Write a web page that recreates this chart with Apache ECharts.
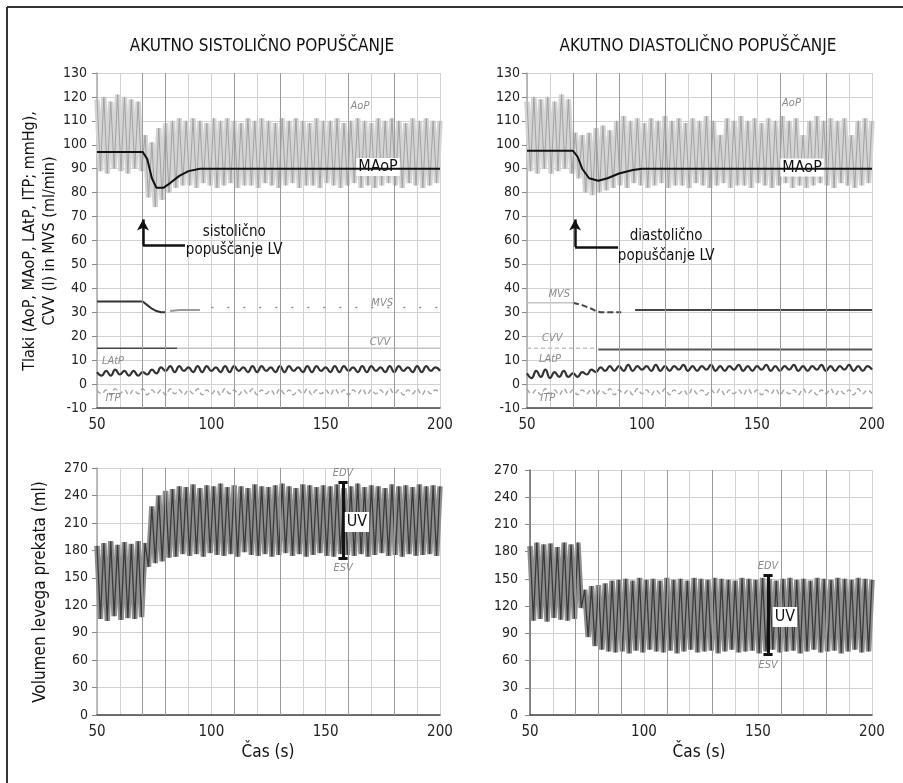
<!DOCTYPE html>
<html>
<head>
<meta charset="utf-8">
<script src="https://cdn.jsdelivr.net/npm/echarts@6/dist/echarts.min.js"></script>
<style>
  html, body { margin: 0; background: #fff; }
  #chart { width: 903px; height: 783px; }
</style>
</head>
<body>
<div id="chart"></div>
<script>
// casovna os (s)
const t0 = 50;
const beatStep = 1.5;   // vzorci za AoP in volumen
const waveStep = 2;     // vzorci za LAtP in ITP

// AoP - akutno sistolicno (vrh / dno izmenicno)
const aopLeft = [
  119, 89, 120, 88, 118, 90, 121, 89, 120, 88, 119, 90, 118, 89,
  104, 78, 101, 74, 107, 77, 109, 80, 110, 82, 111, 83,
  110, 83, 111, 82, 110, 84, 109, 83, 111, 82,
  110, 83, 111, 84, 110, 82, 109, 83, 111, 83,
  110, 82, 111, 84, 110, 83, 109, 82, 111, 83,
  110, 84, 111, 82, 110, 83, 109, 83, 111, 82,
  110, 84, 110, 83, 111, 82, 109, 83, 110, 84,
  111, 82, 110, 83, 109, 82, 111, 83, 110, 84,
  111, 83, 110, 82, 109, 84, 111, 83, 110, 82,
  111, 83, 110, 84, 110
];
// AoP - akutno diastolicno
const aopRight = [
  118, 89, 120, 88, 119, 90, 120, 88, 118, 89, 121, 90, 119, 88,
  105, 86, 104, 80, 105, 79, 107, 80, 108, 81, 106, 82,
  110, 83, 112, 82, 110, 84, 111, 83, 109, 82,
  111, 83, 110, 84, 112, 82, 110, 83, 111, 83,
  109, 82, 111, 84, 110, 83, 112, 82, 110, 83,
  104, 84, 111, 82, 110, 83, 112, 83, 110, 82,
  111, 84, 109, 83, 111, 82, 110, 83, 112, 84,
  110, 82, 111, 83, 104, 82, 110, 83, 112, 84,
  110, 83, 111, 82, 110, 84, 111, 83, 104, 82,
  110, 83, 111, 84, 110
];
// volumen levega prekata (ml)
const lvLeft = [
  185, 105, 188, 103, 190, 108, 186, 104, 189, 106, 187, 105, 190, 107,
  188, 162, 228, 166, 240, 168, 245, 172, 247, 173, 250, 176,
  249, 174, 252, 176, 248, 173, 251, 177, 250, 175,
  253, 174, 249, 176, 251, 173, 250, 178, 248, 175,
  252, 174, 250, 176, 249, 173, 251, 175, 253, 177,
  250, 174, 248, 176, 252, 173, 251, 175, 249, 177,
  251, 174, 250, 173, 252, 176, 248, 175, 250, 174,
  253, 176, 249, 173, 251, 175, 250, 177, 248, 174,
  252, 175, 250, 173, 251, 176, 249, 174, 252, 175,
  250, 176, 251, 174, 250
];
const lvRight = [
  186, 104, 190, 106, 188, 103, 189, 107, 185, 105, 190, 104, 188, 106,
  190, 118, 138, 86, 142, 76, 143, 72, 145, 70, 148, 69,
  149, 70, 150, 68, 148, 71, 151, 69, 149, 72,
  150, 70, 148, 69, 151, 71, 149, 68, 150, 70,
  148, 72, 151, 69, 150, 70, 149, 71, 151, 68,
  150, 70, 149, 72, 148, 69, 151, 70, 150, 71,
  149, 68, 151, 70, 150, 72, 148, 69, 150, 70,
  151, 71, 149, 68, 150, 70, 148, 72, 151, 69,
  150, 70, 149, 71, 151, 68, 150, 70, 149, 72,
  151, 69, 150, 70, 149
];

// LAtP in ITP (mmHg), korak 2 s
const latpLeft = [
  5, 3.5, 5.5, 3.5, 6, 4, 5.5, 3.5, 5.5, 3.5, 5, 4,
  6, 4.5, 7, 5.5, 7.5, 5, 7.5, 5.5,
  7, 5, 7.5, 5, 7.5, 5.5, 7, 5,
  7.5, 5, 7.5, 5.5, 7, 5, 7.5, 5,
  7.5, 5.5, 7, 5, 7.5, 5, 7.5, 5.5,
  7, 5, 7.5, 5, 7.5, 5.5, 7, 5,
  7.5, 5, 7.5, 5.5, 7, 5, 7.5, 5,
  7.5, 5.5, 7, 5, 7.5, 5, 7.5, 5.5,
  7, 5, 7.5, 5, 7.5, 5.5, 7, 5.5
];
const itpLeft = [
  -2.5, -4, -2.5, -4.5, -2, -4, -2.5, -4.5,
  -2.5, -4, -2, -4.5, -2.5, -4, -2.5, -4.5,
  -2, -4, -2.5, -4.5, -2.5, -4, -2, -4.5,
  -2.5, -4, -2.5, -4.5, -2, -4, -2.5, -4.5,
  -2.5, -4, -2, -4.5, -2.5, -4, -2.5, -4.5,
  -2, -4, -2.5, -4.5, -2.5, -4, -2, -4.5,
  -2.5, -4, -2.5, -4.5, -2, -4, -2.5, -4.5,
  -2.5, -4, -2, -4.5, -2.5, -4, -2.5, -4.5,
  -2, -4, -2.5, -4.5, -2.5, -4, -2, -4.5,
  -2.5, -4, -2.5, -4
];
const latpRight = [
  4.5, 2.5, 5.5, 3, 6, 2.5, 5, 3, 5.5, 3, 4.5, 3,
  5, 4, 6, 5, 7, 5.5, 7.5, 5.5,
  7.5, 5.5, 8, 5.5, 7.5, 6, 7.5, 5.5,
  8, 5.5, 7.5, 5.5, 7.5, 6, 8, 5.5,
  7.5, 5.5, 7.5, 6, 8, 5.5, 7.5, 5.5,
  7.5, 6, 8, 5.5, 7.5, 5.5, 7.5, 6,
  8, 5.5, 7.5, 5.5, 7.5, 6, 8, 5.5,
  7.5, 5.5, 7.5, 6, 8, 5.5, 7.5, 5.5,
  7.5, 6, 8, 5.5, 7.5, 5.5, 7.5, 6
];
const itpRight = [
  -2, -4, -2.5, -4.5, -2, -4, -2.5, -4.5,
  -2, -4, -2.5, -4.5, -2.5, -4, -2, -4.5,
  -2.5, -4, -2, -4.5, -2.5, -4, -2.5, -4.5,
  -2, -4, -2.5, -4.5, -2.5, -4, -2, -4.5,
  -2.5, -4, -2.5, -4.5, -2, -4, -2.5, -4.5,
  -2.5, -4, -2, -4.5, -2.5, -4, -2.5, -4.5,
  -2, -4, -2.5, -4.5, -2.5, -4, -2, -4.5,
  -2.5, -4, -2.5, -4.5, -2, -4, -2.5, -4.5,
  -2.5, -4, -2, -4.5, -2.5, -4, -2.5, -4.5,
  -2, -4, -2.5, -4
];

// MAoP, MVS, CVV [t, vrednost]
const maopLeft = [[50, 97], [70, 97], [72, 94], [74, 86], [76, 82], [79, 82], [82, 84], [86, 87], [90, 89], [95, 90], [200, 90]];
const maopRight = [[50, 97.5], [70, 97.5], [72, 95], [74, 90], [77, 86], [81, 85], [85, 86], [90, 88], [96, 89.5], [100, 90], [200, 90]];
const mvsLeftDark = [[50, 34.5], [70, 34.5], [72, 33], [74, 31.5], [76, 30.5], [78, 30], [80, 30]];
const mvsLeftGrey = [[82, 30.5], [86, 31], [95, 31]];
const mvsLeftDot = [[100, 32], [200, 32]];
const cvvLeftDark = [[50, 15], [85, 15]];
const cvvLeftGrey = [[85, 15], [200, 15]];
const mvsRightFaint = [[50, 34], [70, 34]];
const mvsRightDrop = [[70, 34], [74, 33], [78, 31.5], [80, 30.5], [82, 30], [91, 30]];
const mvsRightLate = [[97, 31], [200, 31]];
const cvvRightFaint = [[50, 15], [80, 15]];
const cvvRightLate = [[81, 14.5], [200, 14.5]];

// temnejse mrezne crte
const darkGridLeft = [70, 80, 110, 130, 160, 180];
const darkGridRight = [70, 80, 90, 110, 130, 160, 180];

const FONT = '"Liberation Sans Narrow", "DejaVu Sans Condensed", Roboto, sans-serif';

function beats(values) {
  return values.map((v, i) => [t0 + i * beatStep, v]);
}
function waves(values) {
  return values.map((v, i) => [t0 + i * waveStep, v]);
}

function txt(coord, text, style) {
  return {
    coord: coord,
    symbol: 'circle',
    symbolSize: 0,
    label: Object.assign({ show: true, formatter: text, position: 'inside', fontFamily: FONT, color: '#111', fontSize: 15 }, style || {})
  };
}
const faint = { color: '#8a8a8a', fontSize: 11, fontStyle: 'italic' };

function seg(a, b, extra) {
  return [Object.assign({ coord: a }, extra || {}), { coord: b }];
}

function line(gi, data, color, width, extra) {
  return Object.assign({
    type: 'line',
    xAxisIndex: gi,
    yAxisIndex: gi,
    data: data,
    symbol: 'none',
    silent: true,
    lineStyle: { color: color, width: width }
  }, extra || {});
}

function xAxis(gi) {
  return {
    gridIndex: gi,
    type: 'value',
    min: 50,
    max: 200,
    interval: 10,
    axisLine: { show: true, onZero: false, lineStyle: { color: '#444', width: 1.5 } },
    axisTick: { show: false },
    axisLabel: {
      fontFamily: FONT, fontSize: 15, color: '#222', margin: 10,
      formatter: v => (v % 50 === 0 ? String(v) : '')
    },
    splitLine: { show: true, lineStyle: { color: '#d2d2d2' } }
  };
}
function yAxis(gi, min, max, interval, margin, axisColor) {
  return {
    gridIndex: gi,
    type: 'value',
    min: min,
    max: max,
    interval: interval,
    axisLine: { show: true, onZero: false, lineStyle: { color: axisColor, width: 1.5 } },
    axisTick: { show: true, length: 5, lineStyle: { color: '#888' } },
    axisLabel: { fontFamily: FONT, fontSize: 14, color: '#222', margin: margin },
    splitLine: { show: true, lineStyle: { color: '#d2d2d2' } }
  };
}

function gridMarks(list) {
  return list.map(x => ({ xAxis: x, lineStyle: { color: '#9a9a9a', width: 1, type: 'solid' } }));
}

const chart = echarts.init(document.getElementById('chart'), null, { renderer: 'canvas' });

const arrowStyle = { color: '#111', width: 2.5, type: 'solid' };
const barStyle = { color: '#111', width: 3, type: 'solid' };
const fillJoin = { lineJoin: 'bevel' };

const option = {
  animation: false,
  backgroundColor: '#fff',
  grid: [
    { left: 97, top: 73, width: 343, height: 335 },
    { left: 527, top: 73, width: 345, height: 335 },
    { left: 97, top: 468, width: 343, height: 247 },
    { left: 530, top: 470, width: 342, height: 245 }
  ],
  xAxis: [xAxis(0), xAxis(1), xAxis(2), xAxis(3)],
  yAxis: [
    yAxis(0, -10, 130, 10, 10, '#aaa'),
    yAxis(1, -10, 130, 10, 7, '#aaa'),
    yAxis(2, 0, 270, 30, 9, '#aaa'),
    yAxis(3, 0, 270, 30, 12, '#666')
  ],
  graphic: [
    { type: 'line', shape: { x1: 7, y1: 7, x2: 903, y2: 7 }, style: { stroke: '#333', lineWidth: 2 } },
    { type: 'line', shape: { x1: 7, y1: 7, x2: 7, y2: 783 }, style: { stroke: '#333', lineWidth: 2 } },
    { type: 'text', x: 262, y: 47, style: { text: 'AKUTNO SISTOLIČNO POPUŠČANJE', font: '17px ' + FONT, fill: '#111', textAlign: 'center', textVerticalAlign: 'middle' } },
    { type: 'text', x: 698, y: 47, style: { text: 'AKUTNO DIASTOLIČNO POPUŠČANJE', font: '17px ' + FONT, fill: '#111', textAlign: 'center', textVerticalAlign: 'middle' } },
    { type: 'text', x: 30, y: 241, rotation: Math.PI / 2, style: { text: 'Tlaki (AoP, MAoP, LAtP, ITP; mmHg),', font: '16px ' + FONT, fill: '#111', textAlign: 'center', textVerticalAlign: 'middle' } },
    { type: 'text', x: 50, y: 241, rotation: Math.PI / 2, style: { text: 'CVV (l) in MVS (ml/min)', font: '16px ' + FONT, fill: '#111', textAlign: 'center', textVerticalAlign: 'middle' } },
    { type: 'text', x: 41, y: 592, rotation: Math.PI / 2, style: { text: 'Volumen levega prekata (ml)', font: '17px ' + FONT, fill: '#111', textAlign: 'center', textVerticalAlign: 'middle' } },
    { type: 'text', x: 268, y: 753, style: { text: 'Čas (s)', font: '17px ' + FONT, fill: '#111', textAlign: 'center', textVerticalAlign: 'middle' } },
    { type: 'text', x: 699, y: 753, style: { text: 'Čas (s)', font: '17px ' + FONT, fill: '#111', textAlign: 'center', textVerticalAlign: 'middle' } }
  ],
  series: [
    // ---- zgoraj levo
    line(0, beats(aopLeft), '#d4d4d4', 5.5, { z: 1, lineStyle: Object.assign({ color: '#d4d4d4', width: 5.5 }, fillJoin) }),
    line(0, beats(aopLeft), '#a2a2a2', 1, { z: 2 }),
    line(0, cvvLeftGrey, '#c4c4c4', 1.5, { z: 3 }),
    line(0, mvsLeftDot, '#8a8a8a', 1.5, { z: 3, lineStyle: { color: '#8a8a8a', width: 1.5, type: [2, 14] } }),
    line(0, mvsLeftGrey, '#9a9a9a', 2, { z: 3 }),
    line(0, mvsLeftDark, '#333', 2, { z: 4 }),
    line(0, cvvLeftDark, '#444', 1.5, { z: 4 }),
    line(0, waves(itpLeft), '#a8a8a8', 1.5, { z: 4, smooth: true, lineStyle: { color: '#a8a8a8', width: 1.5, type: [5, 3] } }),
    line(0, waves(latpLeft), '#333', 2.2, { z: 4, smooth: true }),
    line(0, maopLeft, '#111', 2, {
      z: 5,
      markLine: {
        silent: true, symbol: ['none', 'none'], label: { show: false }, animation: false,
        data: gridMarks(darkGridLeft).concat([
          seg([88.5, 57.9], [70.1, 57.9], { lineStyle: arrowStyle }),
          [{ coord: [70.1, 57.9], lineStyle: arrowStyle }, { coord: [70.1, 68.8], symbol: 'arrow', symbolSize: [9, 11] }]
        ])
      },
      markPoint: {
        silent: true, animation: false,
        data: [
          txt([172.9, 90.7], 'MAoP', { fontSize: 16, backgroundColor: '#fff', padding: [1, 2] }),
          txt([165, 116], 'AoP', faint),
          txt([174.7, 34], 'MVS', faint),
          txt([173.8, 17.6], 'CVV', faint),
          txt([57, 9.6], 'LAtP', faint),
          txt([57, -6], 'ITP', faint),
          txt([110, 59.8], 'sistolično\npopuščanje LV', { fontSize: 15, lineHeight: 18, align: 'center' })
        ]
      }
    }),
    // ---- zgoraj desno
    line(1, beats(aopRight), '#d4d4d4', 5.5, { z: 1, lineStyle: Object.assign({ color: '#d4d4d4', width: 5.5 }, fillJoin) }),
    line(1, beats(aopRight), '#a2a2a2', 1, { z: 2 }),
    line(1, mvsRightFaint, '#c4c4c4', 1.5, { z: 3 }),
    line(1, cvvRightFaint, '#c4c4c4', 1.5, { z: 3, lineStyle: { color: '#c4c4c4', width: 1.5, type: [4, 3] } }),
    line(1, mvsRightDrop, '#444', 2, { z: 4, lineStyle: { color: '#444', width: 2, type: [6, 3] } }),
    line(1, mvsRightLate, '#444', 2, { z: 4 }),
    line(1, cvvRightLate, '#555', 2, { z: 4 }),
    line(1, waves(itpRight), '#a8a8a8', 1.5, { z: 4, smooth: true, lineStyle: { color: '#a8a8a8', width: 1.5, type: [5, 3] } }),
    line(1, waves(latpRight), '#333', 2.2, { z: 4, smooth: true }),
    line(1, maopRight, '#111', 2, {
      z: 5,
      markLine: {
        silent: true, symbol: ['none', 'none'], label: { show: false }, animation: false,
        data: gridMarks(darkGridRight).concat([
          seg([89.6, 57.3], [70.9, 57.3], { lineStyle: arrowStyle }),
          [{ coord: [70.9, 57.3], lineStyle: arrowStyle }, { coord: [70.9, 68.8], symbol: 'arrow', symbolSize: [9, 11] }]
        ])
      },
      markPoint: {
        silent: true, animation: false,
        data: [
          txt([169.6, 90.5], 'MAoP', { fontSize: 16, backgroundColor: '#fff', padding: [1, 2] }),
          txt([165, 117.5], 'AoP', faint),
          txt([64, 37.6], 'MVS', faint),
          txt([61, 19], 'CVV', faint),
          txt([60, 10.3], 'LAtP', faint),
          txt([59, -6], 'ITP', faint),
          txt([110.5, 57.5], 'diastolično\npopuščanje LV', { fontSize: 15, lineHeight: 20, align: 'center' })
        ]
      }
    }),
    // ---- spodaj levo
    line(2, beats(lvLeft), '#8e8e8e', 5.5, { z: 1, lineStyle: Object.assign({ color: '#8e8e8e', width: 5.5 }, fillJoin) }),
    line(2, beats(lvLeft), '#3a3a3a', 1.3, {
      z: 3,
      markLine: {
        silent: true, symbol: ['none', 'none'], label: { show: false }, animation: false,
        data: gridMarks(darkGridLeft).concat([
          seg([157.6, 254.7], [157.6, 171.6], { lineStyle: barStyle }),
          seg([155.6, 254.7], [159.6, 254.7], { lineStyle: barStyle }),
          seg([155.6, 171.6], [159.6, 171.6], { lineStyle: barStyle })
        ])
      },
      markPoint: {
        silent: true, animation: false,
        data: [
          txt([157.6, 264], 'EDV', faint),
          txt([157.6, 161], 'ESV', faint),
          txt([163.7, 211], 'UV', { fontSize: 16, backgroundColor: '#fff', padding: [2, 2] })
        ]
      }
    }),
    // ---- spodaj desno
    line(3, beats(lvRight), '#8e8e8e', 5.5, { z: 1, lineStyle: Object.assign({ color: '#8e8e8e', width: 5.5 }, fillJoin) }),
    line(3, beats(lvRight), '#3a3a3a', 1.3, {
      z: 3,
      markLine: {
        silent: true, symbol: ['none', 'none'], label: { show: false }, animation: false,
        data: gridMarks(darkGridRight).concat([
          seg([154.4, 154.3], [154.4, 67], { lineStyle: barStyle }),
          seg([152.4, 154.3], [156.4, 154.3], { lineStyle: barStyle }),
          seg([152.4, 67], [156.4, 67], { lineStyle: barStyle })
        ])
      },
      markPoint: {
        silent: true, animation: false,
        data: [
          txt([154.4, 164], 'EDV', faint),
          txt([154.4, 55], 'ESV', faint),
          txt([161.8, 108], 'UV', { fontSize: 16, backgroundColor: '#fff', padding: [2, 2] })
        ]
      }
    })
  ]
};

chart.setOption(option);
</script>
</body>
</html>
